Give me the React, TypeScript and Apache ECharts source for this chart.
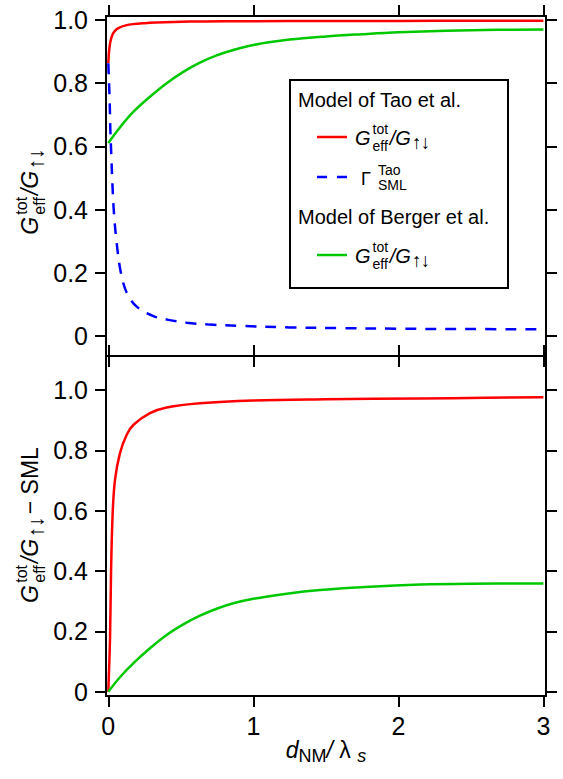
import { useEffect, useRef } from 'react';
import * as echarts from 'echarts';

const FONT = "'Liberation Sans', Arial, Helvetica, sans-serif";

const xTicks = [0, 1, 2, 3];
const yTicks = [0, 0.2, 0.4, 0.6, 0.8, 1.0];

// Upper panel — model of Tao et al.: G_eff^tot / G_updown
const taoTotX = [0, 0.005, 0.012, 0.022, 0.035, 0.055, 0.08, 0.12, 0.17, 0.25, 0.33, 0.45, 0.56, 0.8, 1.0, 1.5, 2.0, 2.5, 3.0];
const taoTotY = [0.863, 0.9, 0.926, 0.945, 0.959, 0.97, 0.977, 0.983, 0.987, 0.99, 0.992, 0.994, 0.995, 0.996, 0.996, 0.997, 0.997, 0.998, 0.998];

// Upper panel — model of Tao et al.: spin-memory-loss factor
const taoSmlX = [0, 0.009, 0.014, 0.021, 0.028, 0.039, 0.058, 0.085, 0.127, 0.196, 0.311, 0.414, 0.54, 0.7, 0.91, 1.25, 1.6, 2.0, 2.5, 3.0];
const taoSmlY = [0.863, 0.747, 0.652, 0.567, 0.483, 0.388, 0.293, 0.204, 0.137, 0.093, 0.063, 0.051, 0.042, 0.036, 0.032, 0.027, 0.025, 0.023, 0.022, 0.021];

// Upper panel — model of Berger et al.: G_eff^tot / G_updown
const bergerTotX = [0, 0.08, 0.172, 0.287, 0.402, 0.517, 0.632, 0.747, 0.862, 1.0, 1.25, 1.5, 1.75, 2.0, 2.33, 2.68, 3.0];
const bergerTotY = [0.611, 0.66, 0.709, 0.757, 0.8, 0.836, 0.865, 0.888, 0.905, 0.921, 0.938, 0.948, 0.955, 0.961, 0.966, 0.969, 0.97];

// Lower panel — G_eff^tot / G_updown with SML removed
const taoNetX = [0, 0.012, 0.019, 0.03, 0.046, 0.08, 0.126, 0.172, 0.287, 0.402, 0.632, 1.0, 1.5, 2.15, 2.6, 3.0];
const taoNetY = [0, 0.182, 0.403, 0.592, 0.702, 0.79, 0.851, 0.884, 0.923, 0.942, 0.956, 0.965, 0.969, 0.972, 0.974, 0.976];

const bergerNetX = [0, 0.08, 0.172, 0.287, 0.402, 0.517, 0.632, 0.747, 0.862, 1.0, 1.23, 1.46, 1.805, 2.15, 2.494, 3.0];
const bergerNetY = [0, 0.048, 0.094, 0.144, 0.188, 0.223, 0.252, 0.275, 0.293, 0.308, 0.325, 0.337, 0.348, 0.355, 0.358, 0.359];

const RED = '#ff0000';
const BLUE = '#0000ff';
const GREEN = '#00c800';

const pairs = (xs: number[], ys: number[]) => xs.map((x, i) => [x, ys[i]]);

type Item = {
  m?: string;
  it?: boolean;
  sup?: string;
  sub?: string;
  subIt?: boolean;
  pad?: number;
  size?: number;
  base?: number;
  adv?: number;
};

export default function App() {
  const ref = useRef<HTMLDivElement>(null);

  useEffect(() => {
    if (!ref.current) return;
    const chart = echarts.init(ref.current, undefined, { renderer: 'svg' });
    const ctx = document.createElement('canvas').getContext('2d')!;

    const measure = (t: string, size: number, italic: boolean) => {
      ctx.font = `${italic ? 'italic ' : ''}${size}px ${FONT}`;
      return ctx.measureText(t).width;
    };

    // text element positioned by its alphabetic baseline
    const txt = (t: string, x: number, baseline: number, size: number, italic = false) => ({
      type: 'text',
      x,
      y: baseline - 0.35 * size,
      silent: true,
      style: {
        text: t,
        fontSize: size,
        fontFamily: FONT,
        fontStyle: italic ? 'italic' : 'normal',
        fill: '#000',
        align: 'left',
        verticalAlign: 'middle',
      },
    });

    // lays out a run of text with stacked super/subscripts, baseline at y = 0
    const formula = (items: Item[], F: number, f: number, supOff: number, subOff: number) => {
      let x = 0;
      const els: any[] = [];
      for (const it of items) {
        x += it.pad ?? 0;
        if (it.m) {
          const sz = it.size ?? F;
          els.push(txt(it.m, x, it.base ?? 0, sz, !!it.it));
          x += it.adv ?? measure(it.m, sz, !!it.it);
        } else {
          const ws = it.sup ? measure(it.sup, f, false) : 0;
          const wb = it.sub ? measure(it.sub, f, !!it.subIt) : 0;
          if (it.sup) els.push(txt(it.sup, x, supOff, f, false));
          if (it.sub) els.push(txt(it.sub, x, subOff, f, !!it.subIt));
          x += Math.max(ws, wb);
        }
      }
      return { els, width: x };
    };

    const ratioItems = (F: number): Item[] => [
      { m: 'G', it: true },
      { pad: 0.1 * F, sup: 'tot', sub: 'eff' },
      { pad: 0.08 * F, m: '/', it: true },
      { m: 'G', it: true },
      { pad: 0.06 * F, m: '↑', size: 0.95 * F, base: 0.22 * F, adv: 0.44 * F },
      { m: '↓', size: 0.95 * F, base: 0.22 * F, adv: 0.44 * F },
    ];

    // rotated y-axis titles
    const yF = 23;
    const topTitle = formula(ratioItems(yF), yF, 16, -0.48 * yF, 0.32 * yF);
    const botTitle = formula([...ratioItems(yF), { pad: 3, m: '− SML' }], yF, 16, -0.48 * yF, 0.32 * yF);
    const titleX = 38;
    const yTitleTop = {
      type: 'group',
      x: titleX,
      y: 192 + topTitle.width / 2,
      rotation: Math.PI / 2,
      children: topTitle.els,
    };
    const yTitleBot = {
      type: 'group',
      x: titleX,
      y: 525 + botTitle.width / 2,
      rotation: Math.PI / 2,
      children: botTitle.els,
    };

    // x-axis title
    const xF = 23;
    const xt = formula(
      [
        { m: 'd', it: true },
        { sub: 'NM' },
        { m: '/', it: true },
        { m: ' λ' },
        { m: ' ' },
        { sub: 's', subIt: true },
      ],
      xF,
      18,
      -0.5 * xF,
      0.2 * xF
    );
    const xTitle = { type: 'group', x: 326 - xt.width / 2, y: 758, children: xt.els };

    // legend box
    const LF = 20;
    const legRatio = () => formula(ratioItems(LF), LF, 14, -0.55 * LF, 0.3 * LF).els;
    const legend = {
      type: 'group',
      children: [
        {
          type: 'rect',
          shape: { x: 290, y: 80, width: 218, height: 208 },
          style: { fill: '#fff', stroke: '#000', lineWidth: 2 },
        },
        txt('Model of Tao et al.', 298, 107, LF),
        { type: 'line', shape: { x1: 317, y1: 137, x2: 347, y2: 137 }, style: { stroke: RED, lineWidth: 2.5 } },
        { type: 'group', x: 355, y: 144.5, children: legRatio() },
        {
          type: 'line',
          shape: { x1: 317, y1: 177, x2: 347, y2: 177 },
          style: { stroke: BLUE, lineWidth: 2.5, lineDash: [10, 10] },
        },
        txt('Γ', 361, 185, 18),
        txt('Tao', 378, 175, 14),
        txt('SML', 378, 190, 14),
        txt('Model of Berger et al.', 298, 224, LF),
        { type: 'line', shape: { x1: 317, y1: 255, x2: 347, y2: 255 }, style: { stroke: GREEN, lineWidth: 2.5 } },
        { type: 'group', x: 355, y: 262.5, children: legRatio() },
      ],
    };

    const axisLine = { show: true, onZero: false, lineStyle: { color: '#000', width: 2 } };
    const tick = (vals: number[]) => ({
      show: true,
      inside: false,
      length: 11,
      customValues: vals,
      lineStyle: { color: '#000', width: 2 },
    });
    const labelStyle = { color: '#000', fontSize: 25, fontFamily: FONT };
    const yFmt = (v: number) => (Math.abs(v) < 1e-9 ? '0' : v.toFixed(1));

    const xRange = { min: -0.016, max: 3.018 };
    const yTopRange = { min: -0.0633, max: 1.0127 };
    const yBotRange = { min: -0.0143, max: 1.1127 };

    const xAxis = [
      { gridIndex: 0, position: 'bottom' },
      { gridIndex: 0, position: 'top' },
      { gridIndex: 1, position: 'bottom', label: true },
      { gridIndex: 1, position: 'top' },
    ].map((a: any) => ({
      type: 'value',
      gridIndex: a.gridIndex,
      position: a.position,
      ...xRange,
      axisLine,
      axisTick: tick(xTicks),
      splitLine: { show: false },
      axisLabel: a.label
        ? { show: true, customValues: xTicks, margin: 17, ...labelStyle, formatter: (v: number) => String(Math.round(v)) }
        : { show: false },
    }));

    const yAxis = [
      { gridIndex: 0, position: 'left', label: true, range: yTopRange },
      { gridIndex: 0, position: 'right', range: yTopRange },
      { gridIndex: 1, position: 'left', label: true, range: yBotRange },
      { gridIndex: 1, position: 'right', range: yBotRange },
    ].map((a: any) => ({
      type: 'value',
      gridIndex: a.gridIndex,
      position: a.position,
      ...a.range,
      axisLine,
      axisTick: tick(yTicks),
      splitLine: { show: false },
      axisLabel: a.label
        ? { show: true, customValues: yTicks, margin: 18, ...labelStyle, formatter: yFmt }
        : { show: false },
    }));

    const line = (name: string, xs: number[], ys: number[], color: string, axis: number, dashed = false) => ({
      type: 'line',
      name,
      data: pairs(xs, ys),
      xAxisIndex: axis,
      yAxisIndex: axis,
      showSymbol: false,
      symbol: 'none',
      smooth: 0.35,
      lineStyle: { color, width: 2.5, type: dashed ? [11, 9] : 'solid' },
      z: 3,
    });

    chart.setOption({
      animation: false,
      grid: [
        { left: 106, top: 16, width: 440, height: 340, outerBoundsMode: 'none', containLabel: false },
        { left: 106, top: 356, width: 440, height: 340, outerBoundsMode: 'none', containLabel: false },
      ],
      xAxis,
      yAxis,
      series: [
        line('Tao G_eff^tot/G', taoTotX, taoTotY, RED, 0),
        line('Tao SML', taoSmlX, taoSmlY, BLUE, 0, true),
        line('Berger G_eff^tot/G', bergerTotX, bergerTotY, GREEN, 0),
        line('Tao G_eff^tot/G - SML', taoNetX, taoNetY, RED, 2),
        line('Berger G_eff^tot/G - SML', bergerNetX, bergerNetY, GREEN, 2),
      ],
      graphic: [legend, yTitleTop, yTitleBot, xTitle],
    });

    return () => chart.dispose();
  }, []);

  return <div ref={ref} style={{ position: 'absolute', left: 0, top: 0, width: 563, height: 779 }} />;
}
